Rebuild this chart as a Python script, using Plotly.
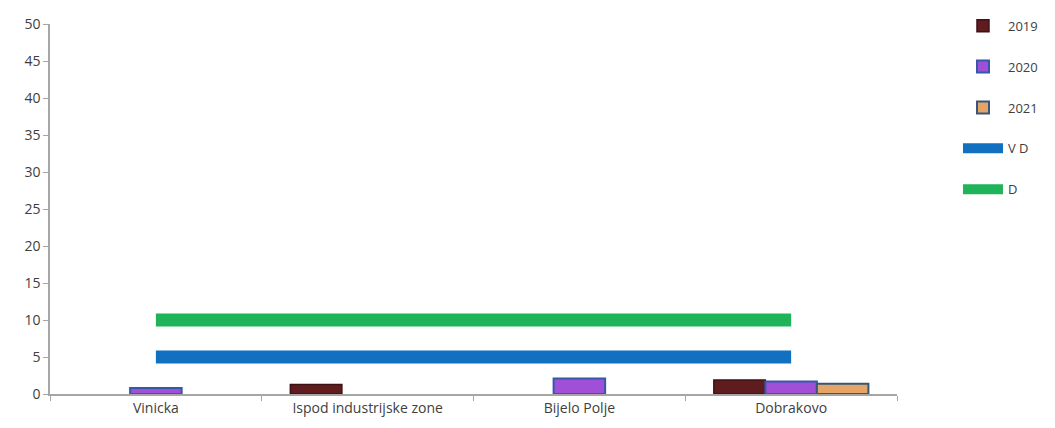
import plotly.graph_objects as go

categories = ["Vinicka", "Ispod industrijske zone", "Bijelo Polje", "Dobrakovo"]
val_2019 = [None, 1.3, None, 1.9]
val_2020 = [0.8, None, 2.1, 1.7]
val_2021 = [None, None, None, 1.4]
vd_limit = [5, 5, 5, 5]
d_limit = [10, 10, 10, 10]

fig = go.Figure()
fig.add_trace(go.Bar(name="2019", x=categories, y=val_2019, legendgroup="a",
                     marker=dict(color="#5e1c1f", line=dict(color="#3e1214", width=1.5))))
fig.add_trace(go.Bar(name="2020", x=categories, y=val_2020, legendgroup="b",
                     marker=dict(color="#a050d8", line=dict(color="#3558a8", width=2))))
fig.add_trace(go.Bar(name="2021", x=categories, y=val_2021, legendgroup="c",
                     marker=dict(color="#e6a466", line=dict(color="#35587a", width=2))))
fig.add_trace(go.Scatter(name="V D", x=categories, y=vd_limit, mode="lines", legendgroup="d",
                         line=dict(color="#1170c0", width=13)))
fig.add_trace(go.Scatter(name="D", x=categories, y=d_limit, mode="lines", legendgroup="e",
                         line=dict(color="#1fb35a", width=13)))

fig.update_layout(
    width=1055, height=428,
    margin=dict(l=50, r=158, t=24, b=34, autoexpand=False),
    paper_bgcolor="white", plot_bgcolor="white",
    barmode="group", bargap=0.27, bargroupgap=0,
    font=dict(family="Open Sans, Liberation Sans, sans-serif", size=14, color="#404040"),
    showlegend=True,
    legend=dict(x=1.072, y=1.036, xanchor="left", yanchor="top",
                tracegroupgap=21, font=dict(size=13, color="#404040"),
                itemwidth=40, bgcolor="rgba(0,0,0,0)"),
)
fig.update_xaxes(showline=True, linecolor="#a6a6a6", linewidth=1.5,
                 ticks="outside", tickson="boundaries", ticklen=5, tickcolor="#a6a6a6",
                 showgrid=False, tickfont=dict(size=14, color="#404040"))
fig.update_yaxes(range=[0, 50], dtick=5, showline=True, linecolor="#a6a6a6", linewidth=1.5,
                 ticks="outside", ticklen=5, tickcolor="#a6a6a6", showgrid=False,
                 zeroline=False, tickfont=dict(size=14, color="#404040"))

fig.write_html("out.html")
